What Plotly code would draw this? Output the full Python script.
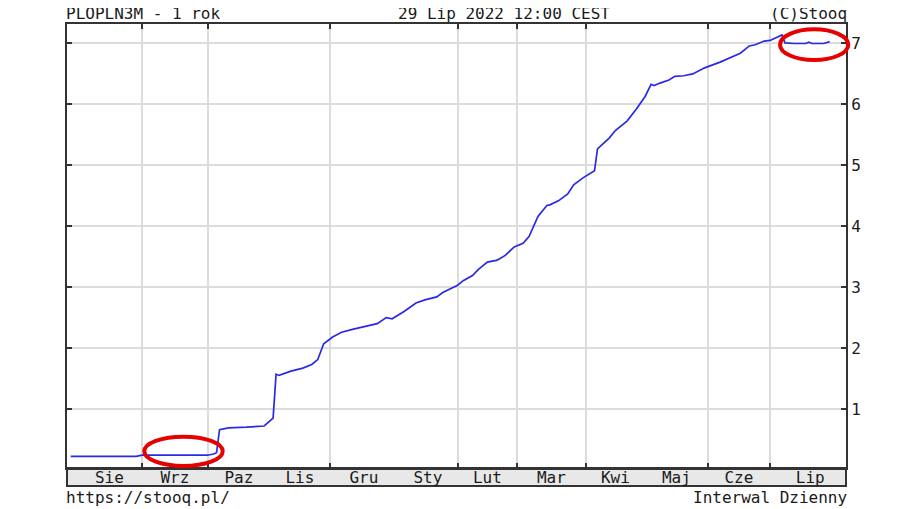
import plotly.graph_objs as go

# WIBOR 3M (PLOPLN3M), daily fixings, last year
dates = ['2021-07-29', '2021-08-30', '2021-09-01', '2021-10-01', '2021-10-05', '2021-10-06',
         '2021-10-07', '2021-10-12', '2021-10-20', '2021-10-28', '2021-11-03', '2021-11-04',
         '2021-11-05', '2021-11-12', '2021-11-18', '2021-11-23', '2021-11-25', '2021-11-26',
         '2021-11-29', '2021-12-02', '2021-12-07', '2021-12-13', '2021-12-20', '2021-12-23',
         '2021-12-28', '2021-12-30', '2022-01-05', '2022-01-12', '2022-01-17', '2022-01-21',
         '2022-01-25', '2022-02-01', '2022-02-03', '2022-02-08', '2022-02-10', '2022-02-15',
         '2022-02-18', '2022-02-21', '2022-02-23', '2022-02-28', '2022-03-03', '2022-03-07',
         '2022-03-10', '2022-03-15', '2022-03-16', '2022-03-21', '2022-03-24', '2022-03-28',
         '2022-03-31', '2022-04-05', '2022-04-06', '2022-04-07', '2022-04-13', '2022-04-15',
         '2022-04-22', '2022-04-27', '2022-05-02', '2022-05-05', '2022-05-06', '2022-05-10',
         '2022-05-13', '2022-05-17', '2022-05-20', '2022-05-25', '2022-05-27', '2022-05-31',
         '2022-06-07', '2022-06-13', '2022-06-17', '2022-06-22', '2022-06-24', '2022-06-29',
         '2022-07-01', '2022-07-07', '2022-07-08', '2022-07-13', '2022-07-19', '2022-07-20',
         '2022-07-21', '2022-07-27', '2022-07-29']
rates = [0.22, 0.22, 0.24, 0.24, 0.26, 0.28,
         0.66, 0.69, 0.70, 0.72, 0.85, 1.57,
         1.55, 1.62, 1.67, 1.73, 1.81, 1.94,
         2.07, 2.18, 2.26, 2.31, 2.36, 2.40,
         2.50, 2.48, 2.60, 2.74, 2.79, 2.84,
         2.91, 3.03, 3.11, 3.19, 3.29, 3.41,
         3.44, 3.46, 3.52, 3.66, 3.72, 3.83,
         4.16, 4.34, 4.35, 4.42, 4.53, 4.68,
         4.79, 4.88, 4.91, 5.27, 5.45, 5.57,
         5.73, 5.92, 6.13, 6.33, 6.31, 6.35,
         6.40, 6.46, 6.47, 6.50, 6.55, 6.60,
         6.69, 6.77, 6.84, 6.96, 6.98, 7.04,
         7.05, 7.14, 7.01, 7.00, 7.00, 7.02,
         7.00, 7.00, 7.03]

# no fixing on these days
holidays = ['2021-11-01', '2021-11-11', '2022-01-06', '2022-04-18', '2022-05-03', '2022-06-16']

month_starts = ['2021-08-01', '2021-09-01', '2021-10-01', '2021-11-01', '2021-12-01', '2022-01-01',
                '2022-02-01', '2022-03-01', '2022-04-01', '2022-05-01', '2022-06-01', '2022-07-01']
month_mids = ['2021-08-17', '2021-09-16', '2021-10-15 12:00', '2021-11-17', '2021-12-16 12:00',
              '2022-01-18', '2022-02-15', '2022-03-16 12:00', '2022-04-15', '2022-05-17 12:00',
              '2022-06-15 12:00', '2022-07-20 12:00']
month_names = ['Sie', 'Wrz', 'Paz', 'Lis', 'Gru', 'Sty', 'Lut', 'Mar', 'Kwi', 'Maj', 'Cze', 'Lip']

FONT = dict(family='DejaVu Sans Mono', size=16, color='#1a1a1a')
FRAME = '#333333'
GRID = '#dcdcdc'

trace = go.Scatter(x=dates, y=rates, mode='lines', line=dict(color='#2a2ae6', width=1.7),
                   showlegend=False, hoverinfo='x+y')

# page body has an 8px margin, so the figure is 8px smaller and margins shifted
layout = go.Layout(
    width=912, height=501,
    margin=dict(l=59, r=74, t=16, b=41),
    paper_bgcolor='white', plot_bgcolor='white',
    font=FONT,
    xaxis=dict(
        type='date',
        range=['2021-07-27 18:00', '2022-08-05 12:00'],
        rangebreaks=[dict(bounds=['sat', 'mon']), dict(values=holidays)],
        tickvals=month_mids, ticktext=month_names,
        ticks='', showgrid=False, zeroline=False, ticklabelstandoff=-6,
        minor=dict(tickvals=month_starts, ticks='inside', ticklen=5, tickwidth=1.5,
                   tickcolor=FRAME, showgrid=True, gridcolor=GRID, gridwidth=1.5),
        showline=True, linecolor=FRAME, linewidth=2, mirror='ticks',
        tickfont=FONT,
    ),
    yaxis=dict(
        range=[0.03, 7.32], dtick=1, tick0=0, side='right',
        ticks='inside', ticklen=5, tickwidth=1.5, tickcolor=FRAME,
        showgrid=True, gridcolor=GRID, gridwidth=1.5, zeroline=False,
        showline=True, linecolor=FRAME, linewidth=2, mirror='ticks',
        tickfont=FONT,
    ),
    shapes=[
        # month band under the plot
        dict(type='rect', xref='paper', yref='paper', x0=0, x1=1, y0=-0.0405, y1=0,
             fillcolor='#e8e8e8', line=dict(color=FRAME, width=2), layer='below'),
        # red marks
        dict(type='circle', xref='paper', yref='paper', x0=0.0992, x1=0.1999, y0=0.0045, y1=0.0705,
             line=dict(color='#e60000', width=4)),
        dict(type='circle', xref='paper', yref='paper', x0=0.9153, x1=1.0029, y0=0.9189, y1=0.9880,
             line=dict(color='#e60000', width=4)),
    ],
    annotations=[
        dict(text='PLOPLN3M - 1 rok', xref='paper', yref='paper', x=0, y=1, xanchor='left',
             yanchor='bottom', showarrow=False, font=FONT, xshift=-3, yshift=-1),
        dict(text='29 Lip 2022 12:00 CEST', xref='paper', yref='paper', x=0.4223, y=1,
             xanchor='left', yanchor='bottom', showarrow=False, font=FONT, yshift=-1),
        dict(text='(C)Stooq', xref='paper', yref='paper', x=1, y=1, xanchor='right',
             yanchor='bottom', showarrow=False, font=FONT, xshift=3, yshift=-1),
        dict(text='https://stooq.pl/', xref='paper', yref='paper', x=0, y=-0.0405, xanchor='left',
             yanchor='top', showarrow=False, font=FONT, xshift=-3),
        dict(text='Interwal Dzienny', xref='paper', yref='paper', x=1, y=-0.0405, xanchor='right',
             yanchor='top', showarrow=False, font=FONT, xshift=3),
    ],
)

fig = go.Figure(data=[trace], layout=layout)
fig.write_html('out.html')
